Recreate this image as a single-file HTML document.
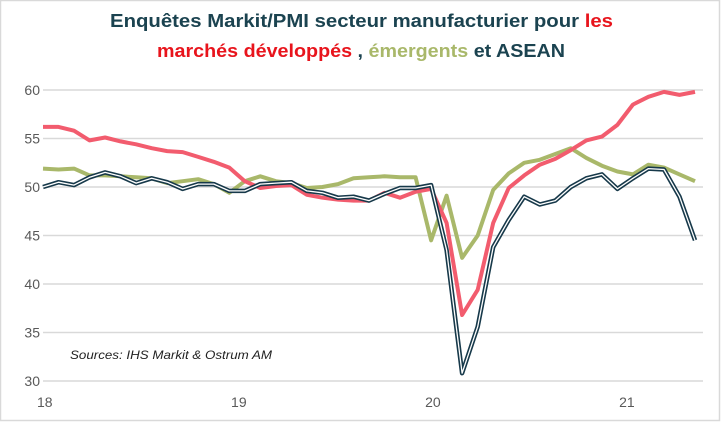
<!DOCTYPE html>
<html><head><meta charset="utf-8"><style>
html,body{margin:0;padding:0;background:#fff}
svg{display:block}
</style></head><body>
<svg id="chart" width="722" height="423" viewBox="0 0 722 423" xmlns="http://www.w3.org/2000/svg">
<rect x="0.5" y="0.5" width="719" height="420" fill="#fff" stroke="#d9d9d9" stroke-width="1.5"/>
<g font-family="Liberation Sans, sans-serif" font-weight="bold" font-size="18">
<text x="110" y="27" textLength="503" lengthAdjust="spacingAndGlyphs" fill="#1b4350">Enquêtes Markit/PMI  secteur manufacturier pour <tspan fill="#e8141c">les</tspan></text>
<text x="157" y="57" textLength="408" lengthAdjust="spacingAndGlyphs" fill="#1b4350"><tspan fill="#e8141c">marchés développés</tspan> , <tspan fill="#a9b86a">émergents</tspan> et ASEAN</text>
</g>
<g id="grid"></g>
<g id="yticks" font-family="Liberation Sans, sans-serif" font-size="14" fill="#595959"></g>
<g id="xticks" font-family="Liberation Sans, sans-serif" font-size="14" fill="#595959"></g>
<text x="70" y="359" font-family="Liberation Sans, sans-serif" font-style="italic" font-size="12" fill="#222" textLength="202" lengthAdjust="spacingAndGlyphs">Sources: IHS Markit &amp; Ostrum AM</text>
<g id="series"></g>
</svg>
<script>
const yTicks = [30, 35, 40, 45, 50, 55, 60];
const xTickLabels = ["18", "19", "20", "21"];
const xTickIndex = [0, 12.5, 25, 37.5];
const developed = [56.2,56.2,55.8,54.8,55.1,54.7,54.4,54.0,53.7,53.6,53.1,52.6,52.0,50.6,49.9,50.1,50.2,49.2,48.9,48.7,48.6,48.6,49.4,48.9,49.5,49.8,46.3,36.8,39.4,46.3,49.9,51.2,52.3,52.9,53.8,54.8,55.2,56.4,58.5,59.3,59.8,59.5,59.8];
const emerging = [51.9,51.8,51.9,51.2,51.2,51.1,51.0,50.9,50.4,50.6,50.8,50.3,49.4,50.6,51.1,50.6,50.4,49.9,50.0,50.3,50.9,51.0,51.1,51.0,51.0,44.5,49.1,42.7,45.0,49.7,51.4,52.5,52.8,53.4,54.0,53.0,52.2,51.6,51.3,52.3,52.0,51.3,50.6];
const asean = [50.0,50.5,50.2,51.0,51.5,51.1,50.4,50.9,50.5,49.8,50.3,50.3,49.6,49.6,50.3,50.4,50.5,49.6,49.4,48.9,49.0,48.6,49.3,49.9,49.9,50.2,43.5,30.8,35.6,43.8,46.6,49.0,48.2,48.6,50.0,50.9,51.3,49.8,50.9,51.9,51.8,49.0,44.5];

const NS = "http://www.w3.org/2000/svg";
const x0 = 43, x1 = 695, gx0 = 43, gx1 = 703;
const n = developed.length;
function xScale(i){ return x0 + i * (x1 - x0) / (n - 1); }
function yScale(v){ return 381 - (v - 30) * (381 - 90) / 30; }

const grid = document.getElementById('grid');
const yt = document.getElementById('yticks');
yTicks.forEach(v => {
  const l = document.createElementNS(NS, 'line');
  l.setAttribute('x1', gx0); l.setAttribute('x2', gx1);
  l.setAttribute('y1', yScale(v)); l.setAttribute('y2', yScale(v));
  l.setAttribute('stroke', '#d9d9d9'); l.setAttribute('stroke-width', '1.5');
  
  
  grid.appendChild(l);
  const t = document.createElementNS(NS, 'text');
  t.setAttribute('x', 40); t.setAttribute('y', yScale(v) + 5);
  t.setAttribute('text-anchor', 'end');
  t.textContent = v;
  
  
  yt.appendChild(t);
});
const xt = document.getElementById('xticks');
xTickLabels.forEach((lab, k) => {
  const t = document.createElementNS(NS, 'text');
  t.setAttribute('x', xScale(xTickIndex[k]) - 6); t.setAttribute('y', 407);
  t.textContent = lab;
  
  
  xt.appendChild(t);
});
function pts(arr){ return arr.map((v,i) => xScale(i).toFixed(1) + ',' + yScale(v).toFixed(1)).join(' '); }
const sg = document.getElementById('series');
function line(arr, color, w, name){
  const p = document.createElementNS(NS, 'polyline');
  p.setAttribute('points', pts(arr));
  p.setAttribute('fill', 'none'); p.setAttribute('stroke', color);
  p.setAttribute('stroke-width', w); p.setAttribute('stroke-linejoin', 'round');
  
  
  sg.appendChild(p);
}
line(emerging, '#a9b86a', 4, 'emerging-markets-line');
line(developed, '#f25c6e', 4, 'developed-markets-line');
line(asean, '#17394a', 4.5, 'asean-line');
line(asean, '#ffffff', 1.3, 'asean-line-inner');
</script>
</body></html>
